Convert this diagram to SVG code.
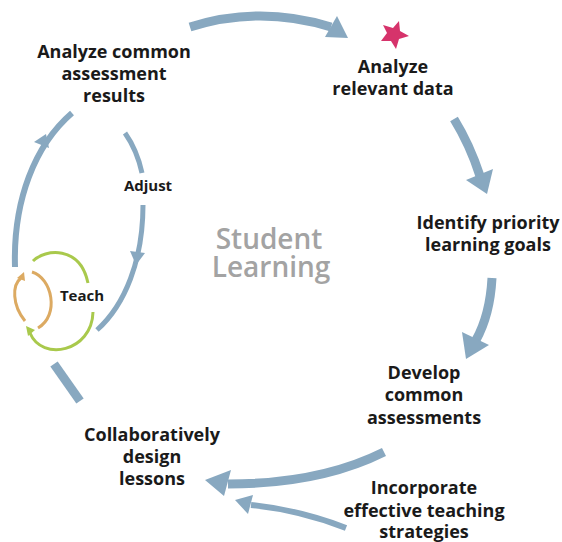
<svg xmlns="http://www.w3.org/2000/svg" width="562" height="542" viewBox="0 0 562 542">
<style>
.lbl{font-family:"Open Sans","Liberation Sans",sans-serif;font-weight:700;font-size:18px;fill:#1a1a1a;text-anchor:middle}
.sm{font-size:15px}
.big{font-family:"Open Sans","Liberation Sans",sans-serif;font-weight:600;font-size:28px;fill:#a3a3a3;text-anchor:middle}
.b{fill:none;stroke:#88a8c0;stroke-linecap:butt}
.h{fill:#88a8c0}
.g{fill:none;stroke:#a9c94c;stroke-width:3}
.o{fill:none;stroke:#dcaa62;stroke-width:3}
</style>
<rect width="562" height="542" fill="#ffffff"/>
<g id="connectors">
  <path class="b" stroke-width="9" d="M190,27 Q260,5 331,27"/>
  <polygon class="h" points="348,38 337,16 325,37"/>
  <path class="b" stroke-width="9" d="M454,119 Q470,145 480,176"/>
  <polygon class="h" points="487,194 466,180 493,169"/>
  <path class="b" stroke-width="9" d="M492,278 Q490,315 476,340"/>
  <polygon class="h" points="466,359 462,332 489,345"/>
  <path class="b" stroke-width="9" d="M384,452 Q320,484 228,484"/>
  <polygon class="h" points="205,480 231,470 224,496"/>
  <path class="b" stroke-width="6" d="M346,528 Q300,510 251,505"/>
  <polygon class="h" points="235,500 253,495 248,514"/>
  <path class="b" stroke-width="6" d="M15,267 C13,200 35,145 72,113"/>
  <polygon class="h" points="46,134 34,142 49,148"/>
  <path class="b" stroke-width="5" d="M125,133 Q137,150 142,173"/>
  <path class="b" stroke-width="5" d="M143,205 C143,260 125,305 97,330"/>
  <polygon class="h" points="136,265 130,251 145,253"/>
  <path class="b" stroke-width="9" d="M54,364 L80,401"/>
</g>
<g id="star">
  <polygon fill="#d6336b" points="399,21 400,31 409,36 399,39 396,49 391,41 381,41 387,33 383,25 393,28"/>
</g>
<g id="center">
  <text class="big" x="269" y="249">Student</text>
  <text class="big" x="271" y="277">Learning</text>
</g>
<g id="n1">
  <text class="lbl" x="114" y="58">Analyze common</text>
  <text class="lbl" x="114" y="80">assessment</text>
  <text class="lbl" x="114" y="102">results</text>
</g>
<g id="n2">
  <text class="lbl" x="393" y="73">Analyze</text>
  <text class="lbl" x="393" y="95">relevant data</text>
</g>
<g id="n3">
  <text class="lbl" x="488" y="229">Identify priority</text>
  <text class="lbl" x="488" y="251">learning goals</text>
</g>
<g id="n4">
  <text class="lbl" x="424" y="379">Develop</text>
  <text class="lbl" x="424" y="401">common</text>
  <text class="lbl" x="424" y="424">assessments</text>
</g>
<g id="n5">
  <text class="lbl" x="424" y="494">Incorporate</text>
  <text class="lbl" x="424" y="517">effective teaching</text>
  <text class="lbl" x="424" y="538">strategies</text>
</g>
<g id="n6">
  <text class="lbl" x="152" y="441">Collaboratively</text>
  <text class="lbl" x="152" y="463">design</text>
  <text class="lbl" x="152" y="485">lessons</text>
</g>
<g id="adjust">
  <text class="lbl sm" x="148" y="191">Adjust</text>
</g>
<g id="teach">
  <path class="g" d="M33,261 C45,249 80,245 88,283"/>
  <path class="g" d="M93,312 C92,352 42,362 30,333"/>
  <polygon fill="#a9c94c" points="26,326 35,330 28,336"/>
  <path class="o" d="M25,321 C12,305 12,285 21,278"/>
  <polygon fill="#dcaa62" points="24,272 17,278 25,281"/>
  <path class="o" d="M32,272 C52,278 60,315 38,328"/>
  <text class="lbl sm" x="82" y="301">Teach</text>
</g>
</svg>
